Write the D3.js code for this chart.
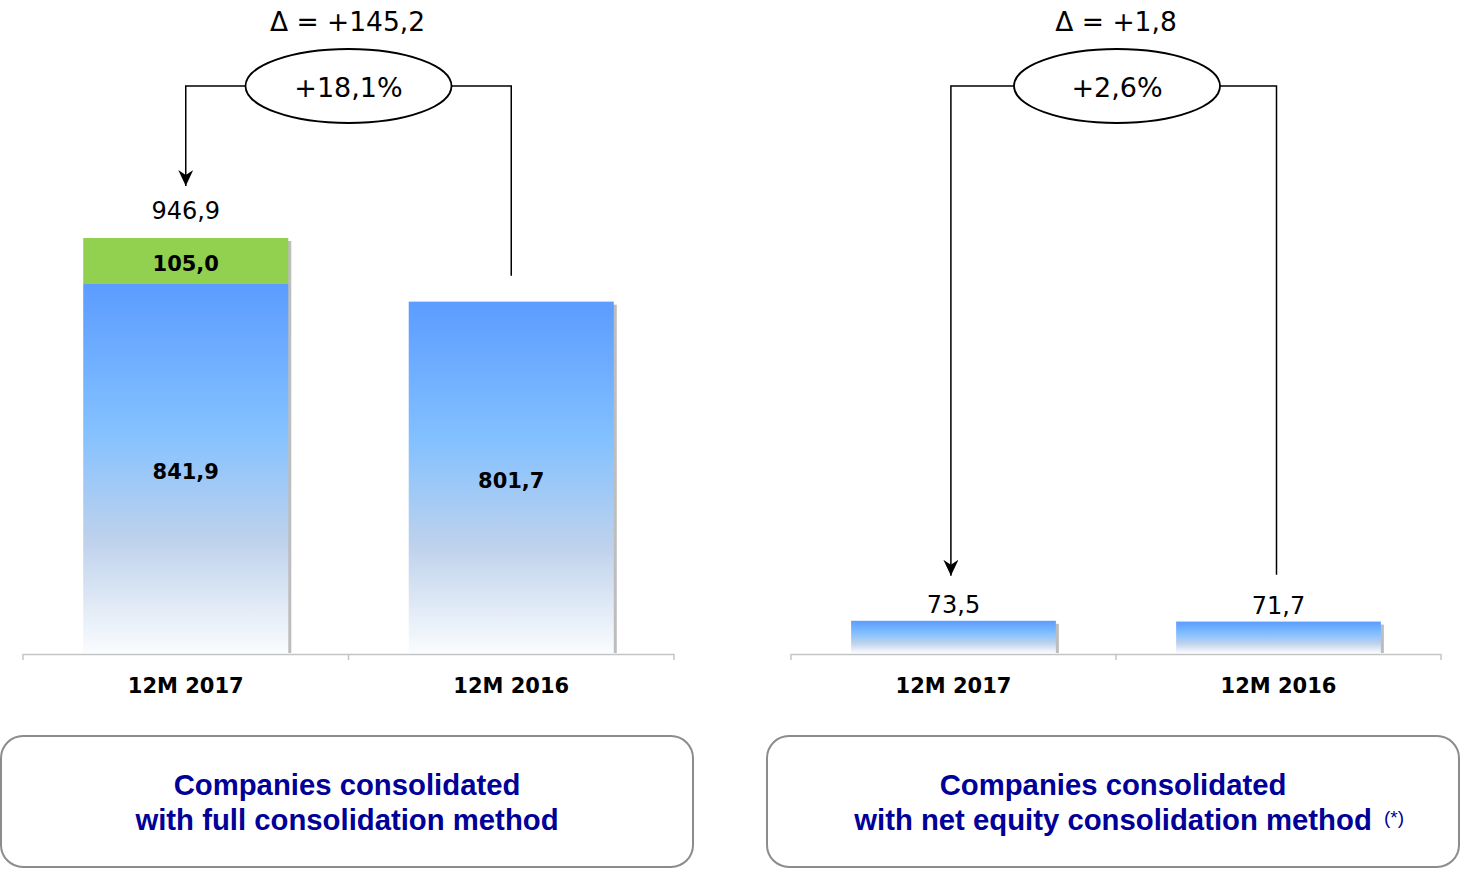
<!DOCTYPE html>
<html><head><meta charset="utf-8">
<script src="https://cdn.jsdelivr.net/npm/d3@7"></script>
<style>
html,body{margin:0;padding:0;background:#fff;}
svg{display:block;}
</style></head>
<body>
<svg id="chart" width="1460" height="874"></svg>
<script>
// ---- data ----
const categories = ["12M 2017", "12M 2016"];
const fullBase = [841.9, 801.7];          // blue segment
const fullExtra = [105.0, 0];             // green segment
const fullTotals = ["946,9", null];
const fullLabelsBase = ["841,9", "801,7"];
const fullLabelsExtra = ["105,0", null];
const equityValues = [73.5, 71.7];
const equityLabels = ["73,5", "71,7"];
const deltaFull = "\u0394 = +145,2";
const pctFull = "+18,1%";
const deltaEquity = "\u0394 = +1,8";
const pctEquity = "+2,6%";
const boxTitleFull = ["Companies consolidated", "with full consolidation method"];
const boxTitleEquity = ["Companies consolidated", "with net equity consolidation method"];
const footnoteMark = "(*)";

const svg = d3.select("#chart");
const defs = svg.append("defs");
const grad = defs.append("linearGradient").attr("id","blueGrad").attr("x1",0).attr("y1",0).attr("x2",0).attr("y2",1);
[[0,"#5b9cff"],[0.4,"#84c1ff"],[0.7,"#bfd2ec"],[1,"#fafcfe"]].forEach(([o,c])=>grad.append("stop").attr("offset",o).attr("stop-color",c));
defs.append("marker").attr("id","arrow").attr("viewBox","0 0 16 15").attr("refX",16).attr("refY",7.5)
  .attr("markerWidth",16).attr("markerHeight",15).attr("markerUnits","userSpaceOnUse").attr("orient","auto")
  .append("path").attr("d","M0,0 L16,7.5 L0,15 L5,7.5 Z").attr("fill","#000");

const baseY = 653;
const y = d3.scaleLinear().domain([0, 946.9]).range([baseY, 238]);
const numFont = "'DejaVu Sans', Verdana, sans-serif";

function panel(x0, x1, stacks, opts){
  const x = d3.scaleBand().domain(categories).range([x0, x1]).paddingInner(0.37).paddingOuter(0.185);
  const g = svg.append("g");
  const ax = g.append("g");
  ax.append("line").attr("x1",x0).attr("x2",x1).attr("y1",baseY+1.5).attr("y2",baseY+1.5).attr("stroke","#c4c4c4").attr("stroke-width",1.5);
  const tickXs = [x0].concat(categories.map(c=>x(c)+x.bandwidth()+x.step()*x.paddingInner()/2));
  tickXs.forEach(t=>ax.append("line").attr("x1",t).attr("x2",t).attr("y1",baseY+1).attr("y2",baseY+7).attr("stroke","#c4c4c4").attr("stroke-width",1.5));
  stacks.forEach((s,i)=>{
    const c = categories[i];
    const bx = x(c), bw = x.bandwidth();
    const top = y(s.base + s.extra);
    g.append("rect").attr("x",bx+3).attr("y",top+3).attr("width",bw).attr("height",baseY-top-3).attr("fill","#bdbdbd");
    g.append("rect").attr("x",bx).attr("y",y(s.base)).attr("width",bw).attr("height",baseY-y(s.base)).attr("fill","url(#blueGrad)");
    if (s.extra>0){
      g.append("rect").attr("x",bx).attr("y",y(s.base+s.extra)).attr("width",bw).attr("height",y(s.base)-y(s.base+s.extra)).attr("fill","#92d050");
      g.append("text").attr("x",bx+bw/2).attr("y",(y(s.base)+y(s.base+s.extra))/2+3).attr("dy","0.35em")
        .attr("text-anchor","middle").attr("font-family",numFont).attr("font-weight","bold").attr("font-size",21).text(s.extraLabel);
    }
    if (s.inLabel){
      g.append("text").attr("x",bx+bw/2).attr("y",(y(s.base)+baseY)/2+3).attr("dy","0.35em")
        .attr("text-anchor","middle").attr("font-family",numFont).attr("font-weight","bold").attr("font-size",21).text(s.inLabel);
    }
    if (s.topLabel){
      g.append("text").attr("x",bx+bw/2).attr("y",top-opts.topGap).attr("text-anchor","middle")
        .attr("font-family",numFont).attr("font-size",24).text(s.topLabel);
    }
    g.append("text").attr("x",bx+bw/2).attr("y",693).attr("text-anchor","middle")
      .attr("font-family",numFont).attr("font-weight","bold").attr("font-size",21).text(c);
  });
  const cx = (x0+x1)/2 + opts.ellDx, cy = 86, rx = 103, ry = 37;
  const xl = x(categories[0]) + x.bandwidth()/2 + opts.arrowDx;
  const xr = x(categories[1]) + x.bandwidth()/2 + opts.lineDx;
  g.append("path").attr("d",`M${cx-rx},${cy} H${xl} V${opts.arrowEnd}`).attr("fill","none").attr("stroke","#000").attr("stroke-width",1.5).attr("marker-end","url(#arrow)");
  g.append("path").attr("d",`M${cx+rx},${cy} H${xr} V${opts.lineEnd}`).attr("fill","none").attr("stroke","#000").attr("stroke-width",1.5);
  g.append("ellipse").attr("cx",cx).attr("cy",cy).attr("rx",rx).attr("ry",ry).attr("fill","#fff").attr("stroke","#000").attr("stroke-width",1.8);
  g.append("text").attr("x",cx).attr("y",cy+11).attr("text-anchor","middle").attr("font-family",numFont).attr("font-size",27).text(opts.pct);
  g.append("text").attr("x",cx-1).attr("y",31).attr("text-anchor","middle").attr("font-family",numFont).attr("font-size",26.5).text(opts.delta);
  return x;
}

panel(23, 674, categories.map((c,i)=>({base:fullBase[i], extra:fullExtra[i], topLabel:fullTotals[i], inLabel:fullLabelsBase[i], extraLabel:fullLabelsExtra[i]})),
  {topGap:19, pct:pctFull, delta:deltaFull, ellDx:0, arrowDx:0, lineDx:0, arrowEnd:y(fullBase[0]+fullExtra[0])-52, lineEnd:y(fullBase[1])-26});
panel(791, 1441, categories.map((c,i)=>({base:equityValues[i], extra:0, topLabel:equityLabels[i], inLabel:null})),
  {topGap:8, pct:pctEquity, delta:deltaEquity, ellDx:1, arrowDx:-2.6, lineDx:-2, arrowEnd:y(equityValues[0])-45, lineEnd:y(equityValues[0])-46});

function box(x, w, lines, mark){
  svg.append("rect").attr("x",x).attr("y",736).attr("width",w).attr("height",131).attr("rx",22).attr("ry",22)
    .attr("fill","#fff").attr("stroke","#8c8c8c").attr("stroke-width",2);
  const cx = x + w/2;
  lines.forEach((l,i)=>{
    svg.append("text").attr("x",cx).attr("y",795+35*i).attr("text-anchor","middle")
      .attr("font-family","'Liberation Sans', Arial, sans-serif").attr("font-weight","bold").attr("font-size",29.3)
      .attr("fill","#000099").text(l);
  });
  if (mark){
    svg.append("text").attr("x",cx+271).attr("y",824).attr("text-anchor","start")
      .attr("font-family","'Liberation Sans', Arial, sans-serif").attr("font-size",19).attr("fill","#000099").text(mark);
  }
}
box(1, 692, boxTitleFull, null);
box(767, 692, boxTitleEquity, footnoteMark);
</script>
</body></html>
